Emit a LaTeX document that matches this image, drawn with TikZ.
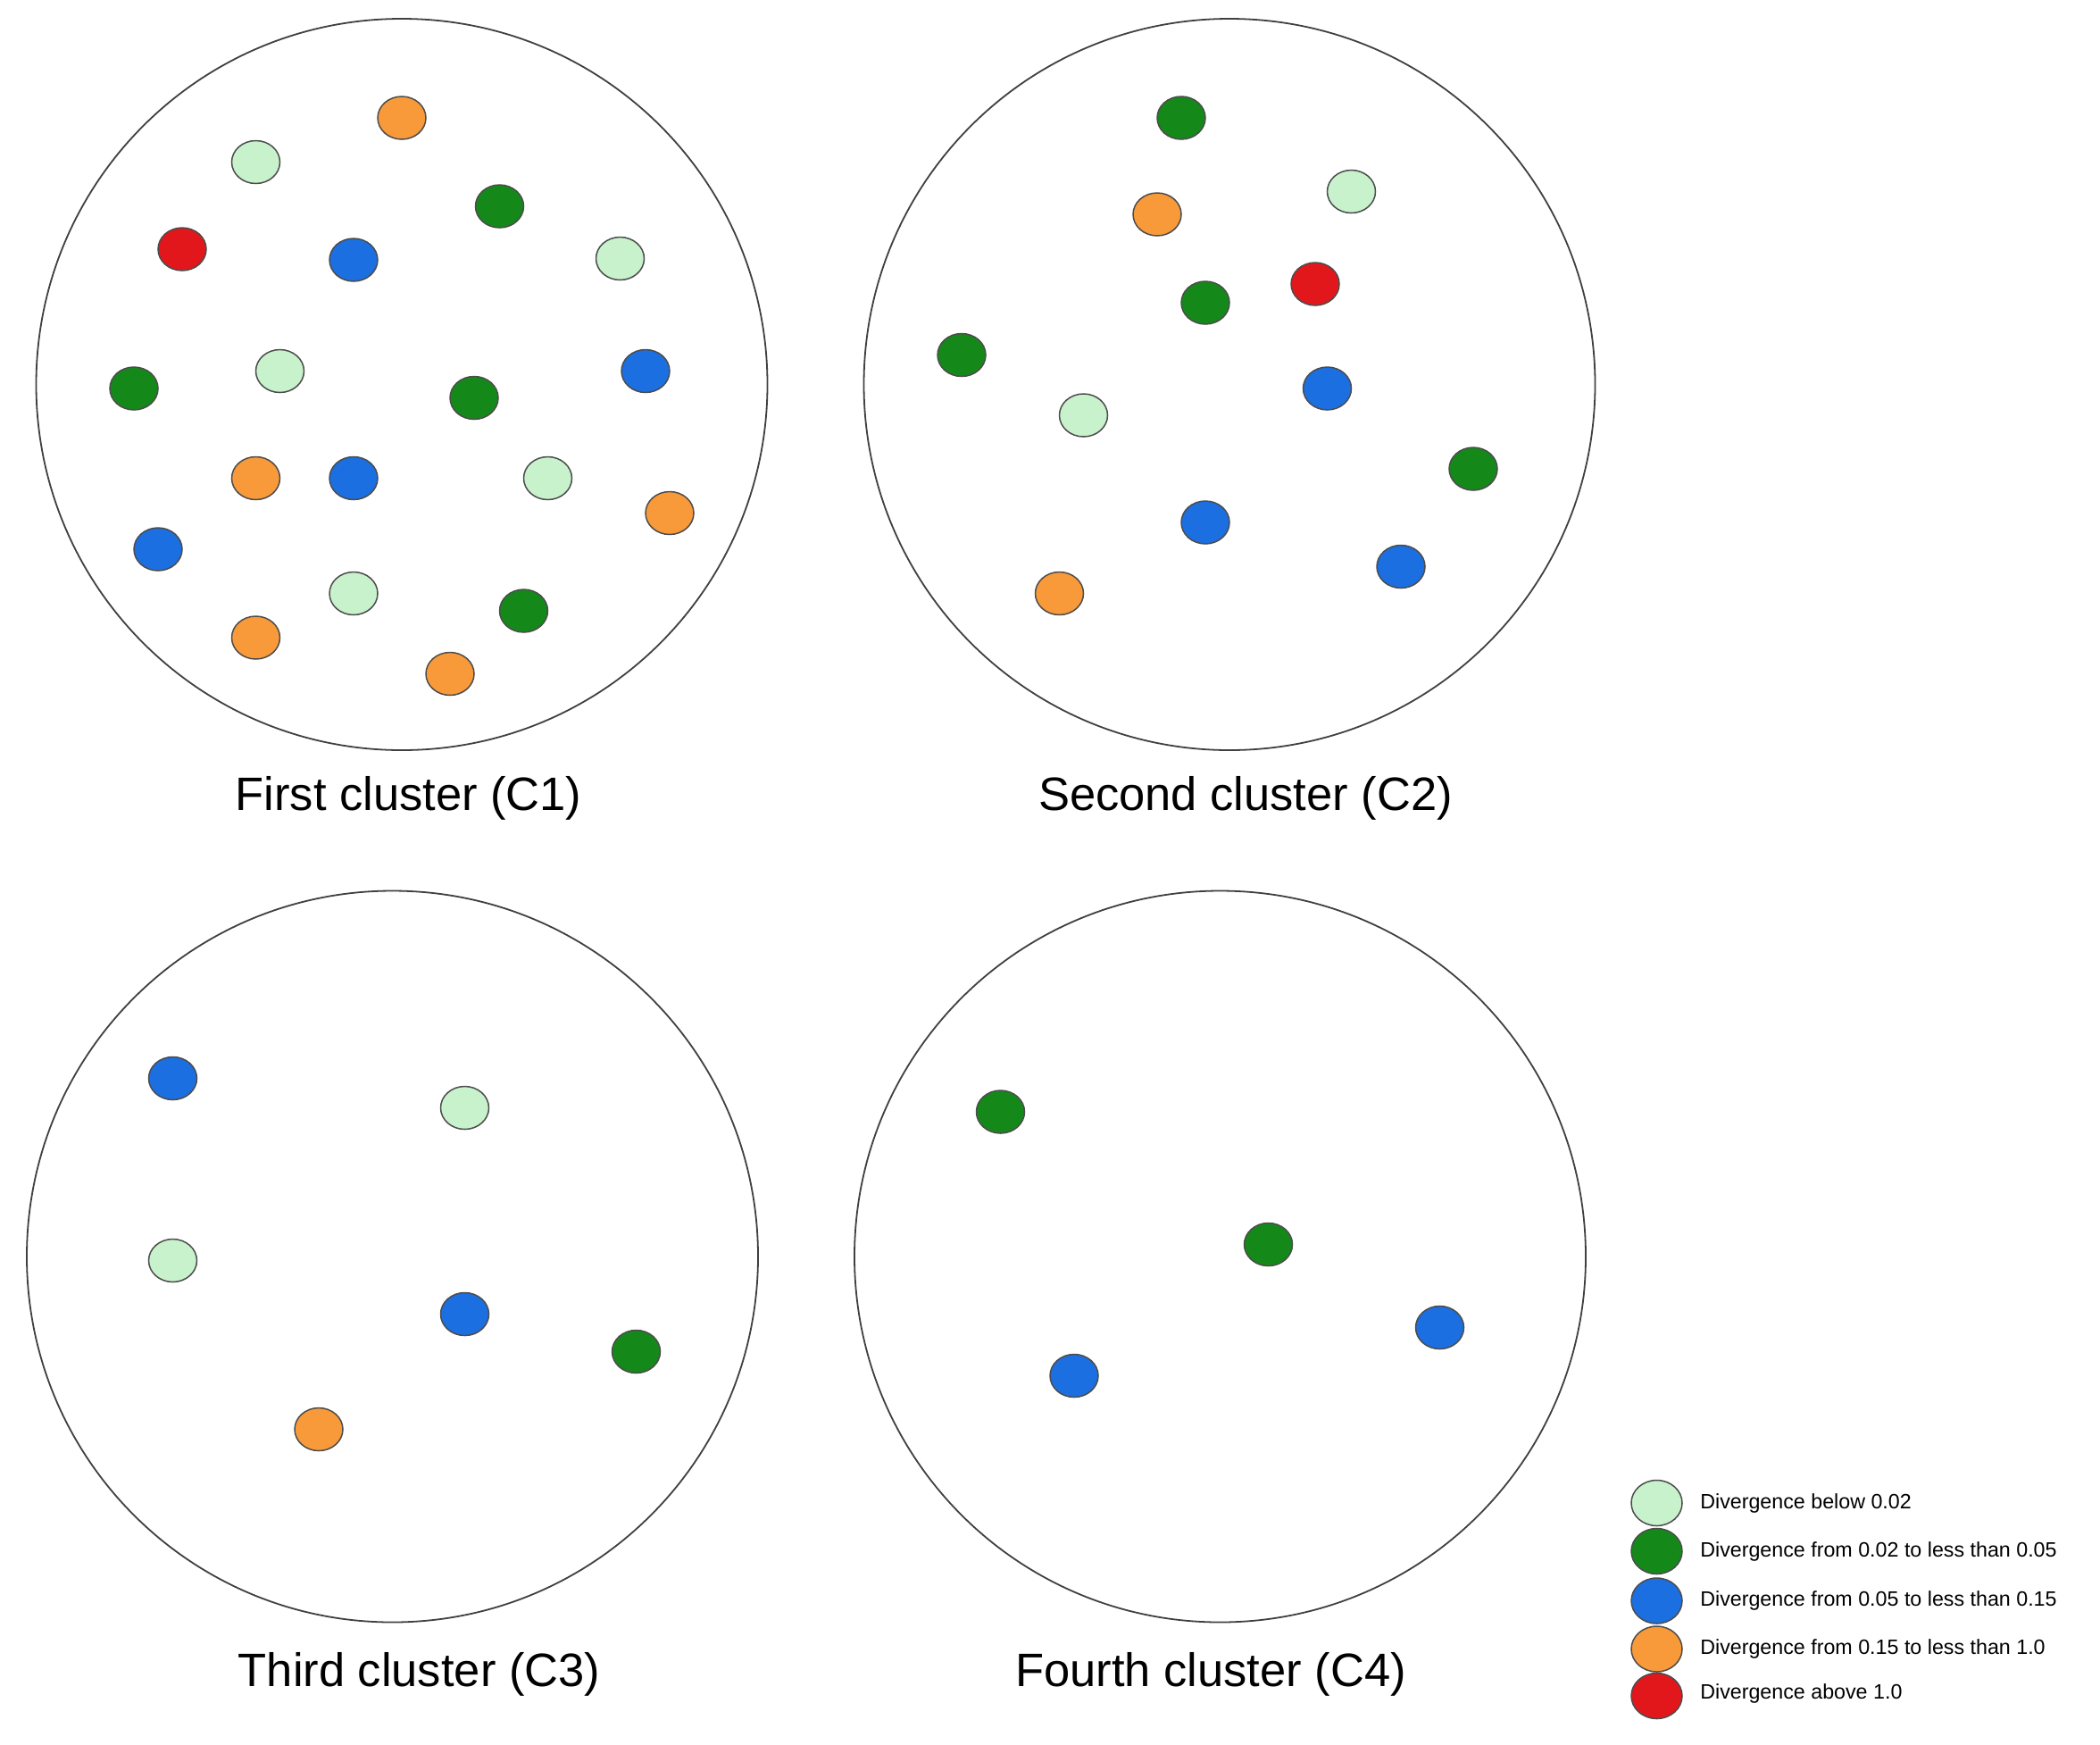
\documentclass[tikz,border=0pt]{standalone}
\usepackage{fontspec}
\setmainfont{Liberation Sans}
\usetikzlibrary{shapes.geometric}
\definecolor{cLight}{HTML}{C8F2CC}
\definecolor{cGreen}{HTML}{14891A}
\definecolor{cBlue}{HTML}{1B6FE0}
\definecolor{cOrange}{HTML}{F89A3A}
\definecolor{cRed}{HTML}{E2171B}
\begin{document}
\begin{tikzpicture}[x=1pt, y=-1pt]

\tikzstyle{cluster} = [draw, color = black!75, line width = 1.2pt, shape = circle, minimum size = 546pt, inner sep = 0pt] % big cluster circle
\tikzstyle{dot}     = [draw = black!70, line width = 1pt, ellipse, minimum width = 36pt, minimum height = 32pt, inner sep = 0pt] % data point
\tikzstyle{key}     = [dot, minimum width = 38pt, minimum height = 34pt] % legend point
\tikzstyle{title}   = [font = \fontsize{35}{40}\selectfont]
\tikzstyle{ktext}   = [anchor = west, font = \fontsize{15.5}{18}\selectfont]

% fix margins
\useasboundingbox (0,0) rectangle (1568,1302);

% clusters with titles
\node(c1)[cluster] at (300,287){};
\node(c2)[cluster] at (918,287){};
\node(c3)[cluster] at (293,938){};
\node(c4)[cluster] at (911,938){};
\node(t1)[title] at (305,596){First cluster (C1)};
\node(t2)[title] at (930,596){Second cluster (C2)};
\node(t3)[title] at (313,1250){Third cluster (C3)};
\node(t4)[title] at (904,1250){Fourth cluster (C4)};

% first cluster points
\foreach \x/\y [count=\i] in {191/121,463/193,209/277,409/357,264/443}
  \node(pa\i)[dot, fill=cLight] at (\x,\y){};
\foreach \x/\y [count=\i] in {373/154,100/290,354/297,391/456}
  \node(pb\i)[dot, fill=cGreen] at (\x,\y){};
\foreach \x/\y [count=\i] in {264/194,482/277,264/357,118/410}
  \node(pc\i)[dot, fill=cBlue] at (\x,\y){};
\foreach \x/\y [count=\i] in {300/88,191/357,500/383,191/476,336/503}
  \node(pd\i)[dot, fill=cOrange] at (\x,\y){};
\node(pe1)[dot, fill=cRed] at (136,186){};

% second cluster points
\foreach \x/\y [count=\i] in {1009/143,809/310}
  \node(qa\i)[dot, fill=cLight] at (\x,\y){};
\foreach \x/\y [count=\i] in {882/88,900/226,718/265,1100/350}
  \node(qb\i)[dot, fill=cGreen] at (\x,\y){};
\foreach \x/\y [count=\i] in {991/290,900/390,1046/423}
  \node(qc\i)[dot, fill=cBlue] at (\x,\y){};
\foreach \x/\y [count=\i] in {864/160,791/443}
  \node(qd\i)[dot, fill=cOrange] at (\x,\y){};
\node(qe1)[dot, fill=cRed] at (982,212){};

% third cluster points
\node(ra1)[dot, fill=cLight] at (347,827){};
\node(ra2)[dot, fill=cLight] at (129,941){};
\node(rb1)[dot, fill=cGreen] at (475,1009){};
\node(rc1)[dot, fill=cBlue] at (129,805){};
\node(rc2)[dot, fill=cBlue] at (347,981){};
\node(rd1)[dot, fill=cOrange] at (238,1067){};

% fourth cluster points
\node(sb1)[dot, fill=cGreen] at (747,830){};
\node(sb2)[dot, fill=cGreen] at (947,929){};
\node(sc1)[dot, fill=cBlue] at (1075,991){};
\node(sc2)[dot, fill=cBlue] at (802,1027){};

% legend
\node(k1)[key, fill=cLight] at (1237,1122){};
\node(k2)[key, fill=cGreen] at (1237,1158){};
\node(k3)[key, fill=cBlue] at (1237,1195){};
\node(k4)[key, fill=cOrange] at (1237,1231){};
\node(k5)[key, fill=cRed] at (1237,1266){};
\node[ktext] at (1266,1122){Divergence below 0.02};
\node[ktext] at (1266,1158){Divergence from 0.02 to less than 0.05};
\node[ktext] at (1266,1195){Divergence from 0.05 to less than 0.15};
\node[ktext] at (1266,1231){Divergence from 0.15 to less than 1.0};
\node[ktext] at (1266,1264){Divergence above 1.0};
\end{tikzpicture}
\end{document}
